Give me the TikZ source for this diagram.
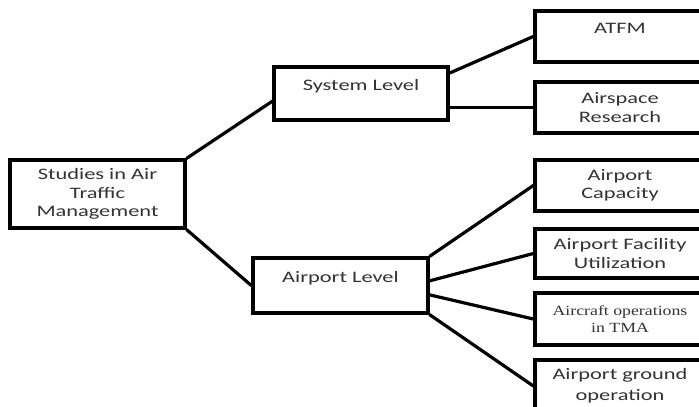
\documentclass[tikz,border=0pt]{standalone}
\usepackage{fontspec}
\setmainfont{Carlito}[FakeStretch=1.4]
\newfontfamily\tmafont{Liberation Serif}[FakeStretch=1.27]
\usepackage{tikz}
\definecolor{inkgray}{HTML}{333333}

\begin{document}
\begin{tikzpicture}[
  x=1pt,y=-1pt,
  every node/.style={font=\fontsize{16}{18.5}\selectfont,align=center,text=inkgray,inner sep=0pt},
  box/.style={draw=black,line width=3.4pt,fill=white},
  high/.style={text height=12pt,text depth=18pt},
  link/.style={line width=3.2pt,line cap=round}
]
\useasboundingbox (0,0) rectangle (699,407);
\fill[white] (0,0) rectangle (699,407);

% root and the two levels
\node[box,minimum width=175pt,minimum height=68pt] (root) at (97.5,194) {Studies in Air\\Traffic\\Management};
\node[box,high,minimum width=174pt,minimum height=53pt] (sys) at (361,93.5) {System Level};
\node[box,high,minimum width=175pt,minimum height=55pt] (apt) at (340.5,285.5) {Airport Level};

% leaves
\node[box,high,minimum width=170pt,minimum height=51pt] (atfm) at (620,36.5) {ATFM};
\node[box,minimum width=170pt,minimum height=51pt] (air) at (620,107.5) {Airspace\\Research};
\node[box,minimum width=170pt,minimum height=51pt] (cap) at (620,185.5) {Airport\\Capacity};
\node[box,minimum width=170pt,minimum height=49pt] (fac) at (620,253.5) {Airport Facility\\Utilization};
\node[box,minimum width=170pt,minimum height=52pt,font=\tmafont\fontsize{14}{16.5}\selectfont] (tma) at (620,319) {Aircraft operations\\in TMA};
\node[box,minimum width=170pt,minimum height=52pt,font=\fontsize{16}{21}\selectfont] (gnd) at (620,386) {Airport ground\\operation};

\draw[link] (root.north east) -- (sys.185);
\draw[link] (root.south east) -- (apt.west);
\draw[link] (sys.13) -- (atfm.west);
\draw[link] (sys.east |- air.west) -- (air.west);
\draw[link] (apt.north east) -- (cap.west);
\draw[link] (apt.3) -- (fac.west);
\draw[link] (apt.-6) -- (tma.west);
\draw[link] (apt.south east) -- (gnd.west);
\end{tikzpicture}
\end{document}
